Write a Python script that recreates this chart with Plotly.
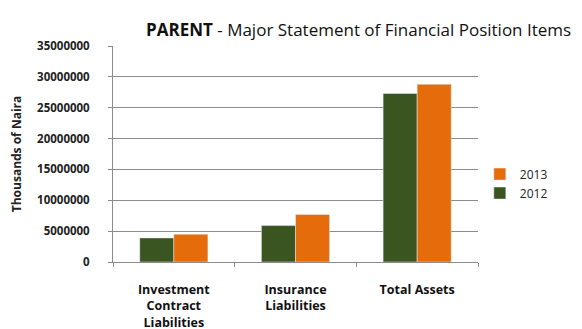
import plotly.graph_objects as go

categories = ["Investment<br>Contract<br>Liabilities", "Insurance<br>Liabilities", "Total Assets"]
values_2012 = [3900000, 5900000, 27300000]
values_2013 = [4500000, 7700000, 28800000]
y_ticks = [0, 5000000, 10000000, 15000000, 20000000, 25000000, 30000000, 35000000]

fig = go.Figure()
fig.add_trace(go.Bar(name="2012", x=categories, y=values_2012, marker_color="#3b5520"))
fig.add_trace(go.Bar(name="2013", x=categories, y=values_2013, marker_color="#e46c0a"))

font_family = "Open Sans, DejaVu Sans, sans-serif"
fig.update_layout(
    width=582, height=329,
    margin=dict(l=113, r=104, t=46, b=67),
    paper_bgcolor="white", plot_bgcolor="white",
    barmode="group", bargap=0.44, bargroupgap=0,
    font=dict(family=font_family, color="#222222"),
    title=dict(text="<b>PARENT</b> - Major Statement of Financial Position Items",
               x=146/582, xanchor="left", y=1-30/329, yanchor="middle",
               font=dict(size=17, color="#111111")),
    legend=dict(traceorder="reversed", x=1.005, xanchor="left", y=0.363, yanchor="middle",
                font=dict(size=12, color="#222222"), itemwidth=30, tracegroupgap=0),
    showlegend=True,
)
fig.update_yaxes(
    range=[0, 35000000], tickvals=y_ticks, ticktext=["<b>%d</b>" % v for v in y_ticks],
    automargin=False,
    showgrid=True, gridcolor="#8c8c8c", gridwidth=1,
    showline=True, linecolor="#8c8c8c", ticks="outside", ticklen=4, tickcolor="#8c8c8c",
    ticklabelstandoff=16,
    tickfont=dict(size=11.5, color="#222222", family=font_family),
    title=dict(text="<b>Thousands of Naira</b>", font=dict(size=12, color="#222222"), standoff=12),
)
fig.update_xaxes(
    automargin=False,
    showline=True, linecolor="#8c8c8c", ticks="outside", ticklen=4, tickcolor="#8c8c8c",
    tickson="boundaries", ticklabelstandoff=16,
    tickfont=dict(size=12.5, color="#111111", family=font_family),
    tickprefix="<b>", ticksuffix="</b>",
)
fig.write_html("out.html")
